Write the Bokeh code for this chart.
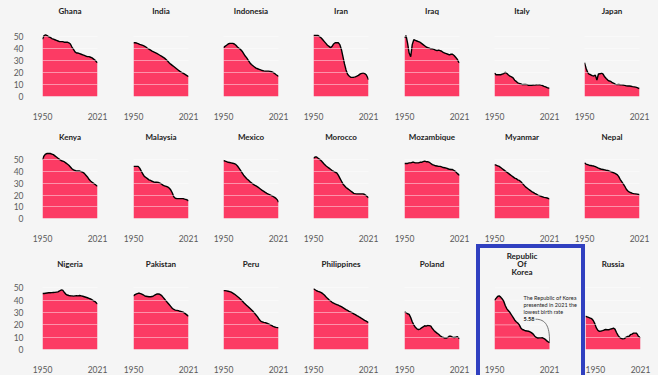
from bokeh.plotting import figure
from bokeh.models import Range1d, FixedTicker, Label, Grid, InlineStyleSheet
from bokeh.layouts import row, column
from bokeh.embed import file_html
from bokeh.resources import INLINE

years = [1950, 1952, 1954, 1956, 1958, 1960, 1962, 1964, 1966, 1968,
         1970, 1972, 1974, 1976, 1978, 1980, 1982, 1984, 1986, 1988,
         1990, 1992, 1994, 1996, 1998, 2000, 2002, 2004, 2006, 2008,
         2010, 2012, 2014, 2016, 2018, 2020, 2021]
x_ticks = [1950, 2021]
y_ticks = [0, 10, 20, 30, 40, 50]
grid_ticks = [10, 20, 30, 40, 50]

ghana = [47.5, 50.5, 51, 50.5, 49.5, 49, 48, 47.5, 47, 46.5, 46, 45.5, 45.5, 45.5, 45, 45, 45, 44.5, 43.5, 41,
         39, 37, 36, 36, 35.5, 35, 34.5, 34, 33.5, 33, 33, 32.5, 32, 31, 30, 28.5, 28]
india = [44.5, 44.5, 44.3, 43.8, 43.2, 42.8, 42.3, 41.8, 41, 40, 39.2, 38.4, 37.6, 37, 36.4, 35.8, 35, 34.2, 33.4,
         32.6, 31.8, 30.6, 29.4, 28, 26.8, 25.8, 24.8, 23.8, 22.8, 21.8, 20.8, 20, 19.3, 18.5, 17.7, 16.9, 16.3]
indonesia = [40.5, 41.5, 42.5, 43.5, 44, 44, 44, 43.5, 42.5, 41, 40, 39, 37.5, 35.5, 33.5, 32, 30, 28, 26.5, 25.5,
             24.5, 23.5, 23, 22.5, 22, 21.5, 21.2, 21, 21, 21, 20.8, 20.5, 20, 19, 18, 17.2, 16.6]
iran = [50.5, 50.5, 50.5, 50.5, 49.5, 48.5, 47, 45.5, 44, 42.5, 41.5, 40.5, 41.5, 43.5, 44.5, 44.5, 44.5, 43, 39, 33,
        27, 22, 18.5, 17, 16, 15.8, 16, 16.3, 16.8, 17.5, 18.5, 19.2, 19.5, 19, 18, 15.5, 14]
iraq = [48.5, 50.5, 44, 36, 33, 43, 47, 46.5, 46, 45.5, 45, 44, 43, 42, 41, 40.5, 40, 39.5, 39.5, 39,
        38.5, 38, 38.5, 38, 37.5, 36.5, 36, 35.5, 35, 34.5, 35, 35, 34, 32.5, 31, 28.5, 28]
italy = [19.5, 18, 18, 18, 18, 18.5, 19, 20, 19, 17.8, 16.8, 16.3, 15.5, 13.5, 12.5, 11.3, 10.8, 10.4, 9.8, 10,
         10, 9.8, 9.3, 9.3, 9.3, 9.5, 9.4, 9.7, 9.6, 9.8, 9.4, 9.1, 8.4, 8, 7.4, 6.9, 6.8]
japan = [28, 23.5, 20, 18.5, 18, 17.3, 17, 17.7, 13.7, 18.6, 18.8, 19.3, 18.6, 16.3, 14.9, 13.6, 12.8, 12.5, 11.4,
         10.8, 10, 9.8, 10, 9.7, 9.6, 9.5, 9.2, 8.8, 8.7, 8.7, 8.5, 8.2, 8, 7.8, 7.4, 6.8, 6.6]
kenya = [50.5, 53.5, 55, 55.5, 55.5, 55.5, 55, 54.5, 53.5, 52.5, 51.5, 50.5, 49.5, 49, 48.5, 47.5, 46.5, 45.5, 44,
         42.5, 41.5, 41, 40.5, 40.5, 40.5, 40, 39.5, 38.5, 37, 35.5, 33.5, 32, 31, 30, 29, 28, 27.5]
malaysia = [44.5, 44.5, 44.5, 44.5, 43, 40.5, 38, 36, 35, 34, 33, 32.5, 31.8, 31.2, 31, 31, 30.8, 30.2, 29.5, 28.5,
            27.8, 27.5, 27, 26, 24.5, 22, 18.5, 17.3, 17, 17, 17, 17, 17, 16.5, 16.2, 15.6, 14.9]
mexico = [49.5, 49, 48.5, 48, 47.8, 47.5, 47.2, 46.8, 46.2, 44.8, 43, 41, 39, 37, 35.5, 34, 32.8, 31.5, 30.5, 29.5,
          28.5, 27.8, 27, 26, 25, 24, 23.2, 22.3, 21.5, 20.8, 20.2, 19.5, 18.8, 18, 17, 15.5, 14]
morocco = [51.5, 52.5, 52.5, 51.5, 50.5, 49.3, 47.8, 46.3, 45, 44, 43, 42, 41, 40.2, 39.5, 39, 37, 34.5, 32, 29.5,
           28, 26.5, 25.5, 24.5, 23.5, 22.5, 21.5, 21.2, 21, 21, 21, 21, 21, 20.5, 19.5, 18.3, 17.6]
mozambique = [47, 47, 47, 47.5, 47.5, 48, 48, 47.5, 47.5, 47.5, 48, 48, 48.5, 49, 48.5, 48.5, 48, 47, 46, 45.5,
              45, 44.8, 44.5, 44.5, 44, 43.5, 43.3, 43, 42.5, 42, 41.8, 41.8, 41, 40, 38.5, 37.5, 36.8]
myanmar = [46, 45.5, 45, 44.5, 43.5, 42.5, 41.5, 40.5, 39.5, 38.5, 37.5, 36.5, 35.5, 34.5, 34, 33, 32.5, 31.5, 30,
           28.5, 27, 26, 25, 24, 23, 22.3, 21.5, 20.8, 20, 19.5, 19, 18.5, 18, 17.8, 17.5, 17, 16.8]
nepal = [47.5, 46.5, 46, 45.5, 45.3, 45, 44.8, 44.2, 43.6, 43, 42.5, 42, 41.8, 41.5, 41.2, 41, 40.5, 40, 39.5, 39,
         38.3, 37.5, 36, 33.5, 31.5, 29.5, 27.5, 25, 23.5, 22.5, 22, 21.5, 21.2, 21, 20.8, 20.5, 20.3]
nigeria = [45.5, 45.5, 45.7, 45.9, 46, 46.1, 46.2, 46.3, 46.4, 46.6, 46.8, 47.5, 48.3, 48.2, 46.5, 45, 44.2, 43.8,
           43.6, 43.5, 43.3, 43.5, 43.6, 43.5, 43.8, 43.5, 43.2, 42.8, 42.4, 42, 41.5, 41, 40.3, 39.5, 38.8, 37.5, 37]
pakistan = [43.5, 44.5, 45.2, 45.6, 45.6, 45.2, 44.6, 43.8, 43.2, 43, 42.8, 42.8, 43, 43.6, 44.4, 45, 45, 44.8, 44,
            42.5, 41, 39.5, 38, 36.5, 35, 33.5, 32.5, 32, 31.8, 31.5, 31, 30.7, 30.3, 29.5, 28.5, 27.5, 27]
peru = [47.8, 47.8, 47.6, 47.3, 47, 46.5, 45.8, 45, 44, 43, 42, 40.8, 39.5, 38.2, 37, 35.8, 34.6, 33.5, 32.3, 31,
        29.5, 28, 26.5, 24.5, 23, 22.5, 22, 21.8, 21.3, 20.8, 20.2, 19.5, 18.8, 18.3, 18, 17.8, 17.6]
philippines = [49.3, 48.5, 47.7, 47.2, 46.8, 46.2, 45.3, 44.2, 42.8, 41.5, 40.3, 39.3, 38.3, 37.6, 37, 36.5, 36,
               35.3, 34.8, 34, 33.2, 32.4, 31.7, 31, 30.4, 29.7, 29, 28.3, 27.5, 26.8, 26, 25.2, 24.5, 23.7, 23,
               22.3, 21.8]
poland = [30.5, 30, 29, 28.5, 26, 22.5, 20, 18, 16.8, 16.2, 16.6, 17.5, 18.3, 19.3, 19, 19.5, 19.4, 19, 17, 15.5,
          14.3, 13.3, 12.4, 11.2, 10.3, 9.8, 9.3, 9.3, 9.8, 10.9, 10.7, 10, 9.7, 9.9, 10.5, 9.4, 8.8]
korea = [40, 41.5, 43, 43.5, 42.5, 41, 39, 35.5, 33, 31.5, 30, 28, 26, 24, 22.5, 21.5, 20, 17.5, 16.2, 15.8,
         15.2, 15, 14.8, 14.3, 13.5, 12.5, 10.8, 9.8, 9.3, 9.4, 9.4, 9.5, 8.8, 8, 6.8, 5.9, 5.58]
russia = [27, 26.5, 26, 25.5, 25, 23.5, 21, 17.5, 15.5, 14.8, 15, 15.3, 15.8, 16.2, 16, 16, 16.5, 16.8, 17.3, 16.5,
          13.8, 11.5, 9.8, 9, 8.6, 8.8, 9.8, 10.5, 10.5, 12, 12.5, 13.3, 13.3, 13.2, 11, 9.9, 9.6]

row1_names = ["Ghana", "India", "Indonesia", "Iran", "Iraq", "Italy", "Japan"]
row1_vals = [ghana, india, indonesia, iran, iraq, italy, japan]
row2_names = ["Kenya", "Malaysia", "Mexico", "Morocco", "Mozambique", "Myanmar", "Nepal"]
row2_vals = [kenya, malaysia, mexico, morocco, mozambique, myanmar, nepal]
row3_names = ["Nigeria", "Pakistan", "Peru", "Philippines", "Poland", "Republic\nOf\nKorea", "Russia"]
row3_vals = [nigeria, pakistan, peru, philippines, poland, korea, russia]

note_lines = ["The Republic of Korea", "presented in 2021 the", "lowest birth rate"]
note_value = "5.58"

BG = "#f5f5f5"
FILL = "#fc3b64"
BOX = "#3040c0"
FONT = "Lato"
PX_PER_YEAR = 55 / 71.0
PX_PER_UNIT = 69 / 56.0


def panel(name, vals, width, left, right, height, bottom, title_px, with_y=False, korea_mode=False):
    # frame starts at the very top of the canvas; y range extended to host the title inside it
    frame_h = height - bottom
    y_top = frame_h / PX_PER_UNIT
    x_end = 2021
    if korea_mode:
        x_end = 1950 + (width - left - right) / PX_PER_YEAR
    p = figure(width=width, height=height, x_range=Range1d(1950, x_end), y_range=Range1d(0, y_top),
               output_backend="svg", toolbar_location=None, title=None,
               y_axis_location="left" if with_y else None,
               min_border_left=left, min_border_right=right,
               min_border_top=0, min_border_bottom=bottom,
               background_fill_color=BG, border_fill_color=BG, outline_line_color=None)
    p.grid.visible = False
    p.varea(x=years, y1=0, y2=vals, fill_color=FILL, fill_alpha=1)
    if korea_mode:
        p.background_fill_alpha = 0
        p.border_fill_alpha = 0
        p.segment(x0=[1950] * len(grid_ticks), x1=[2021] * len(grid_ticks), y0=grid_ticks, y1=grid_ticks,
                  line_color="white", line_alpha=0.45, line_width=1)
    else:
        g = Grid(dimension=1, ticker=FixedTicker(ticks=grid_ticks), grid_line_color="white",
                 grid_line_alpha=0.45, grid_line_width=1, level="overlay")
        p.add_layout(g, "center")
    p.line(x=years, y=vals, line_color="black", line_width=1.4)

    ax = p.xaxis[0]
    ax.ticker = FixedTicker(ticks=x_ticks)
    ax.major_label_text_font = FONT
    ax.major_label_text_font_size = "8.5px"
    ax.major_label_text_color = "#5a5a5a"
    ax.axis_line_color = None
    ax.major_tick_line_color = None
    ax.minor_tick_line_color = None
    ax.major_label_standoff = 10
    if with_y:
        ay = p.yaxis[0]
        ay.ticker = FixedTicker(ticks=y_ticks)
        ay.major_label_text_font = FONT
        ay.major_label_text_font_size = "8.5px"
        ay.major_label_text_color = "#5a5a5a"
        ay.axis_line_color = None
        ay.major_tick_line_color = None
        ay.minor_tick_line_color = None
        ay.major_label_standoff = 13

    lines = name.split("\n")
    n = len(lines)
    for j, line in enumerate(lines):
        off = (j - (n - 1) / 2.0) * 8.0
        yv = (frame_h - (title_px + off)) / PX_PER_UNIT
        p.add_layout(Label(x=1985.5, y=yv, text=line, text_font=FONT, text_font_size="8px",
                           text_font_style="bold", text_color="#222222",
                           text_align="center", text_baseline="middle"))
    return p


widths_a = [115, 90, 90, 91, 90, 90, 92]
lefts_a = [42, 18, 18, 18, 18, 18, 18]
rights_a = [18, 17, 17, 18, 17, 17, 19]
widths_c = [115, 90, 90, 91, 90, 109, 73]
lefts_c = [42, 18, 18, 18, 18, 18, 0]
rights_c = [18, 17, 17, 18, 17, 4, 18]

r1 = [panel(n, v, widths_a[i], lefts_a[i], rights_a[i], 122, 24, 11, with_y=(i == 0))
      for i, (n, v) in enumerate(zip(row1_names, row1_vals))]
r2 = [panel(n, v, widths_a[i], lefts_a[i], rights_a[i], 122, 21, 15, with_y=(i == 0))
      for i, (n, v) in enumerate(zip(row2_names, row2_vals))]
r3 = [panel(n, v, widths_c[i], lefts_c[i], rights_c[i], 131, 26, 19, with_y=(i == 0), korea_mode=(i == 5))
      for i, (n, v) in enumerate(zip(row3_names, row3_vals))]

k = r3[5]
k.stylesheets = [InlineStyleSheet(css=(
    ":host { box-shadow: inset 4px 0 0 0 %s, inset -4px 0 0 0 %s, inset 0 4px 0 0 %s; }" % (BOX, BOX, BOX)))]
note_y = [42.2, 36.0, 30.5]
for txt, yv in zip(note_lines, note_y):
    k.add_layout(Label(x=1987.4, y=yv, text=txt, text_font=FONT, text_font_size="5.5px",
                       text_baseline="middle", text_align="left", text_color="#222222"))
k.add_layout(Label(x=1987.4, y=25.0, text=note_value, text_font=FONT, text_font_size="5.5px",
                   text_font_style="bold", text_baseline="middle", text_align="left", text_color="#222222"))
k.bezier(x0=[2003], y0=[24.6], x1=[2021], y1=[6.3], cx0=[2016], cy0=[24.6], cx1=[2021.3], cy1=[19],
         line_color="#555555", line_width=0.8)

layout = column(row(*r1), row(*r2), row(*r3))
html = file_html(layout, INLINE, title="Birth rate")
html = html.replace("</head>", "<style>body{background-color:%s;}</style></head>" % BG, 1)
open("out.html", "w").write(html)
